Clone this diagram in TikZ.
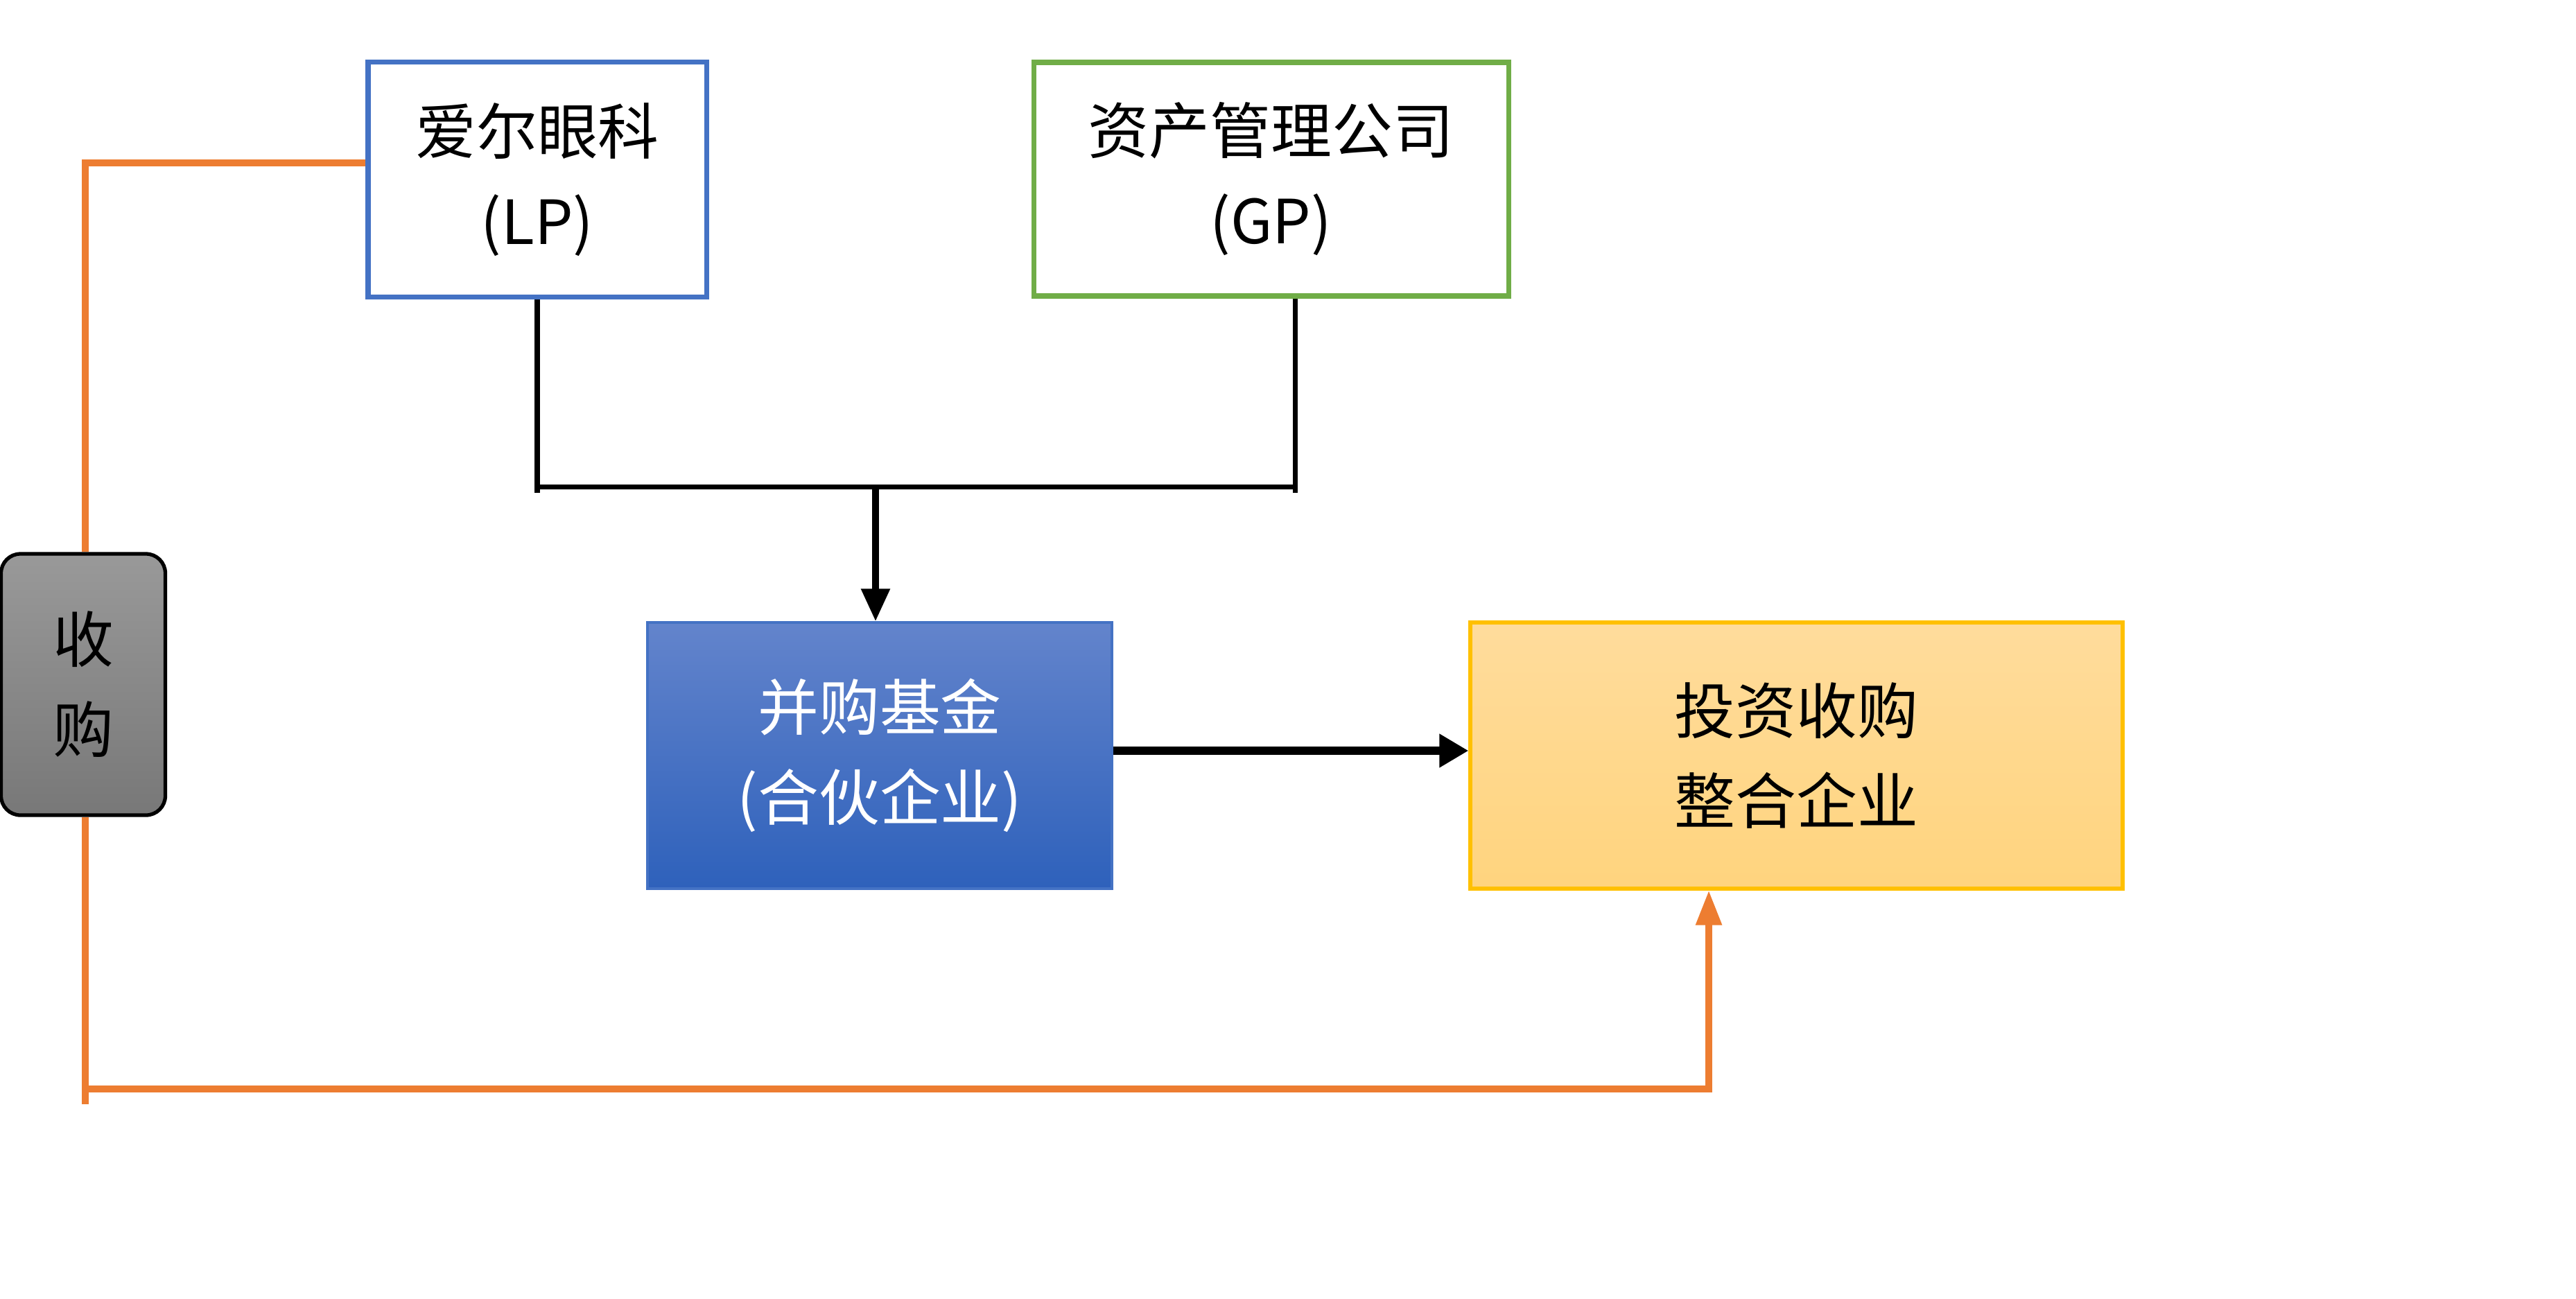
\documentclass[tikz,border=0pt]{standalone}
\usepackage{fontspec}
\setmainfont{Noto Sans CJK SC}
\usepackage{tikz}
\usetikzlibrary{arrows.meta,positioning,calc}
\definecolor{lpblue}{HTML}{4472C4}
\definecolor{gpgreen}{HTML}{70AD47}
\definecolor{fundtop}{HTML}{6384CC}
\definecolor{fundbot}{HTML}{2E61BB}
\definecolor{dealtop}{HTML}{FFDC9C}
\definecolor{dealbot}{HTML}{FFD47E}
\definecolor{dealedge}{HTML}{FFC000}
\definecolor{buyorange}{HTML}{ED7D31}
\tikzset{box/.style={draw,align=center,inner sep=0pt,font=\fontsize{25pt}{37pt}\selectfont},
  partner/.style={box,line width=2pt,fill=white},
  conn/.style={line width=2pt},
  arr/.style={line width=2.6pt,-{Triangle[length=0.47cm,width=0.4cm]}},
  fatarr/.style={line width=3.4pt,-{Triangle[length=0.42cm,width=0.46cm]}},
  oline/.style={buyorange,line width=2.6pt},
  oarr/.style={oline,-{Triangle[length=0.5cm,width=0.36cm]}}}

\begin{document}
\begin{tikzpicture}
\useasboundingbox (0,0) rectangle (37.16,-18.73);
\node[partner,draw=lpblue,minimum width=4.88cm,minimum height=3.39cm] (lp) at (7.75,-2.59) {爱尔眼科\\(LP)};
\node[partner,draw=gpgreen,minimum width=6.85cm,minimum height=3.37cm] (gp) at (18.335,-2.585) {资产管理公司\\(GP)};
\node[box,draw=lpblue,line width=1pt,top color=fundtop,bottom color=fundbot,text=white,minimum width=6.7cm,minimum height=3.84cm] (fund) at (12.69,-10.9) {并购基金\\(合伙企业)};
\node[box,draw=dealedge,line width=1.5pt,top color=dealtop,bottom color=dealbot,minimum width=9.41cm,minimum height=3.84cm] (deal) at (25.915,-10.9) {投资收购\\整合企业};
\node[box,rounded corners=0.28cm,line width=1.5pt,top color=black!40,bottom color=black!53,minimum width=2.37cm,minimum height=3.77cm] (buy) at (1.2,-9.875) {收\\购};

\coordinate (gpfoot) at ([xshift=0.345cm]gp.south);
\coordinate (bus) at (12.63,-7.02);
\coordinate (busend) at (0,-7.11);
\draw[conn] (lp.south) -- (lp.south |- busend);
\draw[conn] (gpfoot) -- (gpfoot |- busend);
\draw[conn] (lp.south |- bus) -- (gpfoot |- bus);
\draw[arr] (bus) -- (bus |- fund.north);
\draw[fatarr] ([yshift=0.07cm]fund.east) -- ([yshift=0.07cm]deal.west);

\coordinate (lpin) at ([yshift=0.24cm]lp.west);
\coordinate (buytop) at ([xshift=0.03cm]buy.north);
\coordinate (buybot) at ([xshift=0.03cm]buy.south);
\coordinate (low) at (1.23,-15.71);
\coordinate (tail) at (1.23,-15.93);
\coordinate (tgt) at ([xshift=-1.265cm]deal.south);
\draw[oline] (lpin) -| (buytop);
\draw[oline] (buybot) -- (tail);
\draw[oarr] (low) -| (tgt);
\end{tikzpicture}
\end{document}
